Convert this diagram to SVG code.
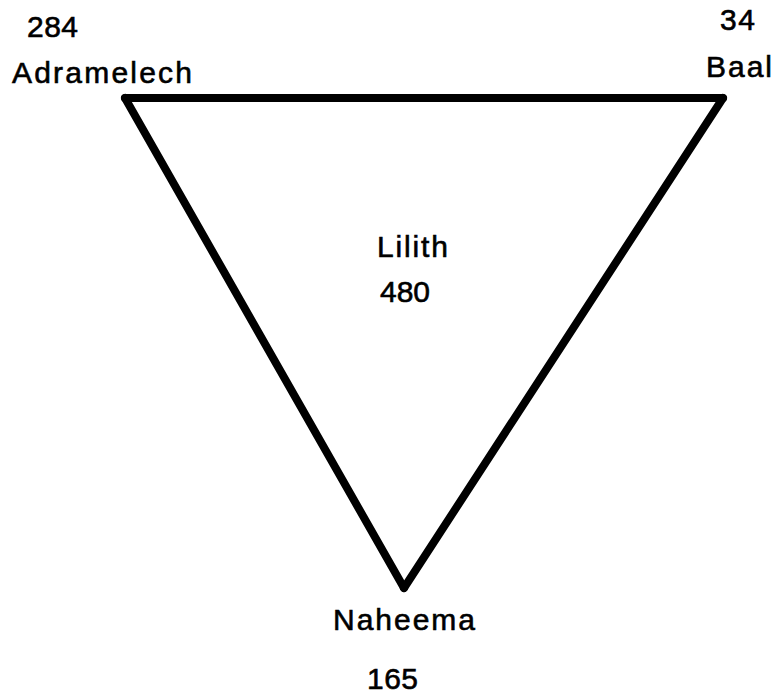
<svg xmlns="http://www.w3.org/2000/svg" width="776" height="694" viewBox="0 0 776 694">
<style>
text{font-family:"Liberation Sans",Arial,sans-serif;font-size:30px;fill:#000;stroke:#000;stroke-width:0.6}
.edge{fill:none;stroke:#000;stroke-width:8;stroke-linejoin:round;stroke-linecap:round}
</style>
<rect width="776" height="694" fill="#fff"/>
<g id="connectors">
<line class="edge" x1="125" y1="98" x2="723" y2="98"/>
<line class="edge" x1="723" y1="98" x2="404" y2="588"/>
<line class="edge" x1="404" y1="588" x2="125" y2="98"/>
</g>
<g id="adramelech">
<text x="27" y="37" textLength="51" lengthAdjust="spacing">284</text>
<text x="12" y="83" textLength="180" lengthAdjust="spacing">Adramelech</text>
</g>
<g id="baal">
<text x="720" y="30" textLength="35" lengthAdjust="spacing">34</text>
<text x="706" y="77" textLength="66" lengthAdjust="spacing">Baal</text>
</g>
<g id="lilith">
<text x="377" y="257" textLength="71" lengthAdjust="spacing">Lilith</text>
<text x="380" y="302" textLength="50" lengthAdjust="spacing">480</text>
</g>
<g id="naheema">
<text x="333" y="630" textLength="142" lengthAdjust="spacing">Naheema</text>
<text x="367" y="689" textLength="51" lengthAdjust="spacing">165</text>
</g>
</svg>
